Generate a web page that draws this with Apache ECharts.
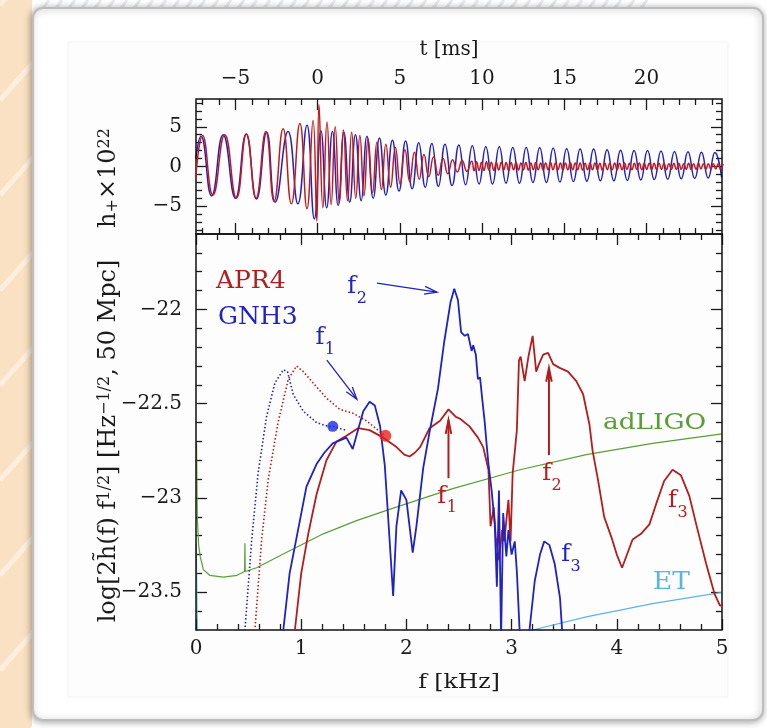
<!DOCTYPE html>
<html><head><meta charset="utf-8">
<script src="https://cdn.jsdelivr.net/npm/echarts@6/dist/echarts.min.js"></script>
<style>html,body{margin:0;padding:0;background:#fff}#c{width:767px;height:728px}</style>
</head><body><div id="c"></div>
<script>
// ---------------- data ----------------
const tMajor = [-5, 0, 5, 10, 15, 20];
const tMinor = [-7,-6,-4,-3,-2,-1,1,2,3,4,6,7,8,9,11,12,13,14,16,17,18,19,21,22,23,24];
const hMajor = [-5, 0, 5];
const hMinor = [-8,-7,-6,-4,-3,-2,-1,1,2,3,4,6,7,8];
const fMajor = [0, 1, 2, 3, 4, 5];
const fMinor = [0.2,0.4,0.6,0.8,1.2,1.4,1.6,1.8,2.2,2.4,2.6,2.8,3.2,3.4,3.6,3.8,4.2,4.4,4.6,4.8];
const sMajor = [-23.5, -23, -22.5, -22];
const sMinor = [-23.6,-23.4,-23.3,-23.2,-23.1,-22.9,-22.8,-22.7,-22.6,-22.4,-22.3,-22.2,-22.1,-21.9,-21.8,-21.7];

// waveform extrema  [t (ms), h+ x 1e22]
const gnh3Wave = [[-7.42,1.0],[-7.1,3.8],[-6.45,-3.7],[-5.75,4.0],[-5.0,-4.0],[-4.35,4.1],[-3.72,-4.1],[-3.1,4.3],[-2.58,-4.5],[-1.8,4.4],[-1.2,-4.7],[-0.65,5.2],[-0.2,-6.6],[0.2,4.5],[0.55,-5.2],[0.9,4.4],[1.25,-4.9],[1.6,4.3],[1.95,-4.5],[2.3,4.0],[2.65,-4.3],[3.0,3.8],[3.38,-4.0],[3.76,3.6],[4.15,-3.6],[4.55,3.3],[4.95,-3.1],[5.35,3.2],[5.75,-2.8],[6.15,3.0],[6.55,-2.6],[6.95,2.9],[7.35,-2.5],[7.75,2.8],[8.18,-2.4],[8.59,2.7],
[9.0,-2.3],[9.41,2.6],[9.82,-2.2],[10.23,2.5],[10.64,-2.2],[11.05,2.5],[11.46,-2.1],[11.87,2.4],[12.28,-2.1],[12.69,2.4],[13.1,-2.0],[13.51,2.35],[13.92,-2.0],[14.33,2.3],[14.74,-1.95],[15.15,2.25],[15.56,-1.9],[15.97,2.2],[16.38,-1.85],[16.79,2.2],[17.2,-1.8],[17.61,2.1],[18.02,-1.8],[18.43,2.05],[18.84,-1.75],[19.25,2.0],[19.66,-1.7],[20.07,2.0],[20.48,-1.65],[20.89,1.95],[21.3,-1.6],[21.71,1.9],[22.12,-1.55],[22.53,1.85],[22.94,-1.5],[23.35,1.8],[23.76,-1.45],[24.17,1.75],[24.58,-1.4]];
const apr4Wave = [[-7.42,-1.5],[-7.0,3.9],[-6.37,-3.6],[-5.65,4.0],[-4.94,-4.0],[-4.33,4.1],[-3.75,-4.0],[-3.15,4.4],[-2.65,-4.4],[-2.1,4.75],[-1.6,-4.7],[-1.08,5.4],[-0.65,-5.3],[-0.28,5.8],[-0.05,-6.9],[0.08,7.8],[0.32,-5.2],[0.57,5.6],[0.82,-4.8],[1.07,5.0],[1.32,-4.6],[1.57,4.6],[1.82,-4.3],[2.07,4.3],[2.32,-4.0],[2.57,3.9],[2.82,-3.7],[3.07,3.5],[3.34,-3.3],[3.61,3.1],[3.88,-2.9],[4.15,2.8],[4.44,-2.6],[4.73,2.4],[5.02,-2.2],[5.31,2.1],[5.6,-1.9],[5.89,1.8],[6.18,-1.6],[6.47,1.5],[6.76,-1.3],[7.05,1.2],[7.34,-1.1],[7.63,1.0],[7.92,-0.9],[8.21,0.85],[8.5,-0.7],[8.79,0.75],[9.08,-0.6],[9.37,0.65],
[9.52,-0.55],[9.67,0.6],[9.82,-0.5],[9.97,0.55],[10.12,-0.5],[10.27,0.6],[10.42,-0.45],[10.57,0.55],[10.72,-0.5],[10.87,0.5],[11.02,-0.45],[11.17,0.55],[11.32,-0.45],[11.47,0.5],[11.62,-0.5],[11.77,0.5],[11.92,-0.4],[12.07,0.5],[12.22,-0.45],[12.37,0.45],[12.52,-0.4],[12.67,0.5],[12.82,-0.45],[12.97,0.45],[13.12,-0.4],[13.27,0.5],[13.42,-0.4],[13.57,0.45],[13.72,-0.45],[13.87,0.45],[14.02,-0.4],[14.17,0.5],[14.32,-0.4],[14.47,0.45],[14.62,-0.4],[14.77,0.45],[14.92,-0.45],[15.07,0.45],[15.22,-0.4],[15.37,0.5],[15.52,-0.4],[15.67,0.45],[15.82,-0.4],[15.97,0.45],[16.12,-0.45],[16.27,0.4],[16.42,-0.4],[16.57,0.45],[16.72,-0.4],[16.87,0.45],[17.02,-0.4],[17.17,0.4],[17.32,-0.45],[17.47,0.45],[17.62,-0.4],[17.77,0.4],[17.92,-0.4],[18.07,0.45],[18.22,-0.4],[18.37,0.4],[18.52,-0.4],[18.67,0.45],[18.82,-0.35],[18.97,0.4],[19.12,-0.4],[19.27,0.4],[19.42,-0.35],[19.57,0.45],[19.72,-0.4],[19.87,0.4],[20.02,-0.35],[20.17,0.4],[20.32,-0.4],[20.47,0.4],[20.62,-0.35],[20.77,0.4],[20.92,-0.35],[21.07,0.4],[21.22,-0.4],[21.37,0.35],[21.52,-0.35],[21.67,0.4],[21.82,-0.35],[21.97,0.4],[22.12,-0.35],[22.27,0.35],[22.42,-0.35],[22.57,0.4],[22.72,-0.35],[22.87,0.35],[23.02,-0.35],[23.17,0.4],[23.32,-0.3],[23.47,0.35],[23.62,-0.35],[23.77,0.35],[23.92,-0.3],[24.07,0.35],[24.22,-0.3],[24.37,0.35],[24.52,-0.3],[24.67,0.3]];

// spectra  [f (kHz), log amplitude]
const gnh3Spec = [[0.78,-23.95],[0.83,-23.7],[0.89,-23.4],[0.956,-23.21],[1.05,-22.94],[1.146,-22.82],[1.22,-22.76],[1.30,-22.71],[1.43,-22.68],[1.49,-22.74],[1.54,-22.64],[1.59,-22.54],[1.65,-22.49],[1.70,-22.51],[1.75,-22.62],[1.795,-22.83],[1.84,-23.22],[1.874,-23.52],[1.905,-23.15],[1.95,-22.96],[2.0,-23.01],[2.06,-23.29],[2.095,-23.15],[2.16,-22.84],[2.22,-22.65],[2.30,-22.42],[2.36,-22.17],[2.42,-21.96],[2.455,-21.89],[2.49,-21.95],[2.52,-22.12],[2.555,-22.14],[2.585,-22.13],[2.62,-22.22],[2.635,-22.19],[2.66,-22.24],[2.68,-22.37],[2.70,-22.36],[2.72,-22.47],[2.745,-22.6],[2.76,-22.7],[2.78,-22.82],[2.81,-22.96],[2.84,-23.14],[2.86,-23.47],[2.88,-22.96],[2.90,-23.75],[2.92,-23.08],[2.95,-23.31],[2.97,-23.17],[3.0,-23.3],[3.03,-23.23],[3.05,-23.39],[3.08,-23.75],[3.12,-24.0],[3.15,-23.9],[3.17,-23.7],[3.22,-23.44],[3.27,-23.3],[3.31,-23.23],[3.36,-23.25],[3.41,-23.35],[3.46,-23.53],[3.48,-23.7],[3.52,-24.0]];
const apr4Spec = [[0.90,-24.0],[0.94,-23.7],[1.0,-23.4],[1.067,-23.19],[1.146,-22.98],[1.24,-22.8],[1.336,-22.7],[1.43,-22.67],[1.54,-22.63],[1.65,-22.64],[1.78,-22.68],[1.906,-22.73],[1.98,-22.77],[2.03,-22.78],[2.08,-22.76],[2.13,-22.73],[2.22,-22.63],[2.32,-22.59],[2.40,-22.53],[2.47,-22.57],[2.51,-22.58],[2.60,-22.62],[2.68,-22.68],[2.73,-22.73],[2.78,-22.85],[2.80,-23.15],[2.83,-23.05],[2.85,-23.21],[2.88,-23.33],[2.91,-23.17],[2.93,-23.23],[2.97,-23.01],[2.99,-23.23],[3.01,-22.87],[3.05,-22.64],[3.07,-22.27],[3.086,-22.25],[3.124,-22.38],[3.16,-22.25],[3.2,-22.14],[3.234,-22.33],[3.26,-22.29],[3.30,-22.24],[3.347,-22.23],[3.395,-22.29],[3.457,-22.31],[3.536,-22.33],[3.615,-22.38],[3.68,-22.45],[3.74,-22.61],[3.77,-22.75],[3.82,-22.9],[3.88,-23.1],[3.95,-23.21],[4.0,-23.3],[4.05,-23.37],[4.09,-23.31],[4.15,-23.22],[4.23,-23.19],[4.31,-23.14],[4.375,-23.03],[4.45,-22.91],[4.53,-22.85],[4.61,-22.88],[4.69,-22.99],[4.755,-23.14],[4.85,-23.35],[4.93,-23.51],[4.98,-23.57],[5.0,-23.57]];
const gnh3Dotted = [[0.45,-23.9],[0.465,-23.7],[0.53,-23.22],[0.59,-22.87],[0.67,-22.57],[0.75,-22.39],[0.83,-22.32],[0.87,-22.33],[0.924,-22.45],[1.02,-22.54],[1.146,-22.6],[1.256,-22.62],[1.30,-22.62],[1.42,-22.64]];
const apr4Dotted = [[0.54,-23.9],[0.56,-23.7],[0.624,-23.22],[0.687,-22.9],[0.78,-22.6],[0.877,-22.37],[0.956,-22.3],[1.02,-22.33],[1.114,-22.39],[1.24,-22.47],[1.367,-22.53],[1.49,-22.55],[1.62,-22.59],[1.75,-22.65],[1.80,-22.67]];
const adLigo = [[0.005,-22.71],[0.012,-23.1],[0.025,-23.25],[0.04,-23.31],[0.07,-23.38],[0.13,-23.41],[0.26,-23.42],[0.39,-23.41],[0.462,-23.39],[0.465,-23.24],[0.468,-23.39],[0.576,-23.37],[0.89,-23.28],[1.21,-23.19],[1.526,-23.12],[1.84,-23.06],[2.22,-22.99],[2.44,-22.95],[3.08,-22.85],[3.71,-22.77],[4.34,-22.71],[5.0,-22.66]];
const etSens = [[0.003,-23.24],[0.01,-23.6],[0.02,-23.9],[3.0,-23.9],[3.2,-23.7],[3.71,-23.63],[4.34,-23.56],[5.0,-23.5]];
const gnh3Dot = [[1.30,-22.62]];
const apr4Dot = [[1.80,-22.67]];

// annotation anchors (data coords of bottom panel)
const arrowsBlue = [[[1.72,-21.86],[2.29,-21.908]], [[1.244,-22.269],[1.529,-22.476]]];
const arrowsRed = [[[2.40,-22.895],[2.40,-22.587]], [[3.355,-22.773],[3.355,-22.311]]];
const modeLabels = [
  {p:[1.481,-21.881], sub:'2', c:'blue'}, {p:[1.178,-22.152], sub:'1', c:'blue'},
  {p:[3.514,-23.299], sub:'3', c:'blue'},
  {p:[2.336,-22.991], sub:'1', c:'red'}, {p:[3.333,-22.874], sub:'2', c:'red'},
  {p:[4.530,-23.017], sub:'3', c:'red'}];

// ---------------- styles ----------------
const FONT = 'DejaVu Serif';
const INK = '#1a1a1a';
const RED = '#c21b1b', BLUE = '#2020c8', RED2 = '#b31d1d', BLUE2 = '#1f22c4';
const GREEN = '#5b9e35', CYAN = '#5ab6e0';
const fmt = v => String(v).replace('-', '\u2212');

function ax(grid, min, max, pos, ticks, len, labels, margin) {
  return {
    type: 'value', gridIndex: grid, min: min, max: max, position: pos,
    axisLine: {show: false, onZero: false}, splitLine: {show: false},
    axisTick: {show: true, inside: true, length: len, customValues: ticks, lineStyle: {color: INK, width: 1.3}},
    axisLabel: labels ? {show: true, customValues: labels, formatter: fmt, margin: margin, color: INK, fontFamily: FONT, fontSize: 20} : {show: false},
    axisPointer: {show: false}, silent: true
  };
}
const T = [-7.4, 24.6], H = [-8.5, 8.5], F = [0, 5], S = [-23.7, -21.6];
const MJ = 11, MN = 6;

const chart = echarts.init(document.getElementById('c'));
const lineS = (data, color, width, xi, extra) => Object.assign({
  type: 'line', data: data, xAxisIndex: xi, yAxisIndex: xi, symbol: 'none', silent: true,
  lineStyle: {color: color, width: width}, itemStyle: {color: color}, clip: true
}, extra || {});

chart.setOption({
  animation: false,
  backgroundColor: 'transparent',
  grid: [
    {left: 196, top: 99, width: 526, height: 135, show: true, borderColor: '#111', borderWidth: 1.5, backgroundColor: 'transparent', z: 3},
    {left: 196, top: 234, width: 526, height: 396, show: true, borderColor: '#111', borderWidth: 1.5, backgroundColor: 'transparent', z: 3}
  ],
  xAxis: [
    ax(0, T[0], T[1], 'top', tMajor, MJ, tMajor, 10),
    ax(0, T[0], T[1], 'top', tMinor, MN),
    ax(0, T[0], T[1], 'bottom', tMajor, MJ),
    ax(0, T[0], T[1], 'bottom', tMinor, MN),
    ax(1, F[0], F[1], 'bottom', fMajor, MJ, fMajor, 9),
    ax(1, F[0], F[1], 'bottom', fMinor, MN),
    ax(1, F[0], F[1], 'top', fMajor, MJ),
    ax(1, F[0], F[1], 'top', fMinor, MN)
  ],
  yAxis: [
    ax(0, H[0], H[1], 'left', hMajor, MJ, hMajor, 14),
    ax(0, H[0], H[1], 'left', hMinor, MN),
    ax(0, H[0], H[1], 'right', hMajor, MJ),
    ax(0, H[0], H[1], 'right', hMinor, MN),
    ax(1, S[0], S[1], 'left', sMajor, MJ, sMajor, 14),
    ax(1, S[0], S[1], 'left', sMinor, MN),
    ax(1, S[0], S[1], 'right', sMajor, MJ),
    ax(1, S[0], S[1], 'right', sMinor, MN)
  ],
  series: [
    lineS(gnh3Wave, BLUE, 1.5, 0, {smooth: 0.5, z: 2}),
    lineS(apr4Wave, RED, 1.5, 0, {smooth: 0.5, z: 3}),
    lineS(adLigo, GREEN, 1.2, 4, {z: 2}),
    lineS(etSens, CYAN, 1.2, 4, {z: 2}),
    lineS(gnh3Dotted, BLUE2, 1.6, 4, {z: 3, lineStyle: {color: BLUE2, width: 1.6, type: [1.5, 2.2]}}),
    lineS(apr4Dotted, RED2, 1.6, 4, {z: 3, lineStyle: {color: RED2, width: 1.6, type: [1.5, 2.2]}}),
    lineS(apr4Spec, RED2, 1.8, 4, {z: 4}),
    lineS(gnh3Spec, BLUE2, 1.8, 4, {z: 5}),
    {type: 'scatter', data: gnh3Dot, xAxisIndex: 4, yAxisIndex: 4, symbolSize: 11, itemStyle: {color: '#1a2be0'}, z: 6, silent: true},
    {type: 'scatter', data: apr4Dot, xAxisIndex: 4, yAxisIndex: 4, symbolSize: 12, itemStyle: {color: '#e8231d'}, z: 6, silent: true}
  ]
});

// ---------------- annotations & decoration ----------------
const px = p => chart.convertToPixel({xAxisIndex: 4, yAxisIndex: 4}, p);
const els = [];
// page decoration
els.push({type: 'rect', shape: {x: 0, y: 0, width: 767, height: 728}, style: {fill: '#ffffff'}, z: -20, silent: true});
els.push({type: 'rect', shape: {x: 0, y: 0, width: 32, height: 728}, style: {fill: '#fbe1c4'}, z: -19, silent: true});
for (let y = -40; y < 800; y += 95) {
  els.push({type: 'line', shape: {x1: 0, y1: y + 45, x2: 40, y2: y}, style: {stroke: 'rgba(255,255,255,0.45)', lineWidth: 5}, z: -18, silent: true});
}
for (let x = 40; x < 640; x += 13) {
  els.push({type: 'line', shape: {x1: x, y1: 12, x2: x + 9, y2: 0}, style: {stroke: '#e4eaee', lineWidth: 3}, z: -18, silent: true});
}
els.push({type: 'rect', shape: {x: 33, y: 8, width: 730, height: 712, r: 10}, style: {fill: '#ffffff', stroke: '#bdbdbd', lineWidth: 2, shadowBlur: 7, shadowColor: 'rgba(0,0,0,0.35)', shadowOffsetX: -1, shadowOffsetY: 1}, z: -15, silent: true});
els.push({type: 'rect', shape: {x: 68, y: 42, width: 660, height: 655}, style: {fill: '#fdfdfd', stroke: '#f3f3f3', lineWidth: 1}, z: -14, silent: true});

// axis titles
const tstyle = (text, size, extra) => Object.assign({text: text, fontFamily: FONT, fontSize: size, fill: INK, align: 'center', verticalAlign: 'middle'}, extra || {});
els.push({type: 'text', x: 449, y: 50, style: tstyle('t [ms]', 20), z: 40, silent: true});
els.push({type: 'text', x: 459, y: 683, scaleX: 1.12, style: tstyle('f [kHz]', 21), z: 40, silent: true});
const richR = {
  s: {fontSize: 16, fontFamily: FONT, fill: INK, verticalAlign: 'top', lineHeight: 16},
  b: {fontSize: 16, fontFamily: FONT, fill: INK, verticalAlign: 'bottom', lineHeight: 16}
};
els.push({type: 'text', x: 109, y: 441, rotation: Math.PI / 2,
  style: tstyle('log[2h\u0303(f) f{s|1/2}] [Hz{s|\u22121/2}, 50 Mpc]', 24, {rich: richR}), z: 40, silent: true});
els.push({type: 'text', x: 109, y: 178, rotation: Math.PI / 2,
  style: tstyle('h{b|+}\u00d710{s|22}', 24, {rich: richR}), z: 40, silent: true});

// arrows
function arrowEls(a, b, color, w, L, ang) {
  const P = px(a), Q = px(b);
  const dx = Q[0] - P[0], dy = Q[1] - P[1], n = Math.hypot(dx, dy), ux = dx / n, uy = dy / n;
  const c = Math.cos(ang), s = Math.sin(ang);
  const l1 = [Q[0] - L * (ux * c - uy * s), Q[1] - L * (uy * c + ux * s)];
  const l2 = [Q[0] - L * (ux * c + uy * s), Q[1] - L * (uy * c - ux * s)];
  return [
    {type: 'line', shape: {x1: P[0], y1: P[1], x2: Q[0], y2: Q[1]}, style: {stroke: color, lineWidth: w}, z: 50, silent: true},
    {type: 'polyline', shape: {points: [l1, Q, l2]}, style: {stroke: color, lineWidth: w, fill: null}, z: 50, silent: true}
  ];
}
arrowsBlue.forEach(a => els.push(...arrowEls(a[0], a[1], BLUE2, 1.3, 13, 0.3)));
arrowsRed.forEach(a => els.push(...arrowEls(a[0], a[1], RED2, 2, 14, 0.2)));

// mode labels
modeLabels.forEach(m => {
  const P = px(m.p), col = m.c === 'blue' ? BLUE2 : RED2;
  els.push({type: 'text', x: P[0], y: P[1], style: tstyle('f', 24, {fill: col}), z: 50, silent: true});
  els.push({type: 'text', x: P[0] + 10, y: P[1] + 12, style: tstyle(m.sub, 16, {fill: col}), z: 50, silent: true});
});

// legend-like text labels
const pA = px([0.19, -21.852]), pG = px([0.209, -22.043]), pL = px([4.359, -22.603]), pE = px([4.52, -23.447]);
els.push({type: 'text', x: pA[0], y: pA[1], style: tstyle('APR4', 25, {fill: RED2, align: 'left'}), z: 50, silent: true});
els.push({type: 'text', x: pG[0], y: pG[1], style: tstyle('GNH3', 25, {fill: BLUE2, align: 'left'}), z: 50, silent: true});
els.push({type: 'text', x: pL[0], y: pL[1], scaleX: 1.2, style: tstyle('adLIGO', 22, {fill: GREEN}), z: 50, silent: true});
els.push({type: 'text', x: pE[0], y: pE[1], scaleX: 1.1, style: tstyle('ET', 24, {fill: CYAN}), z: 50, silent: true});

chart.setOption({graphic: {elements: els}});
</script></body></html>
